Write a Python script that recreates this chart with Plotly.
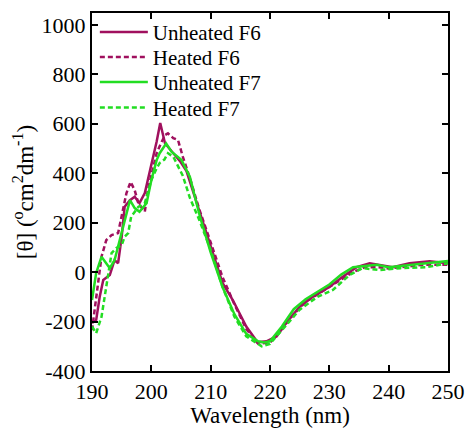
import plotly.graph_objects as go

# Unheated F6
wl_u6 = [190, 190.7, 191.3, 191.9, 193, 193.8, 194.4, 195, 195.5, 196.4, 197.2, 198, 198.9, 199.4,
         200.3, 200.9, 201.5, 202.3, 203.7, 204.8, 205.9, 206.8, 208.1, 209.8, 212, 213.7, 216,
         217.9, 219.4, 221.1, 222.8, 225, 227.2, 230, 232.2, 234.6, 236.8, 239, 240.7, 243.5,
         246.9, 250]
th_u6 = [-206, -194, -100, -32, -12, 48, 36, 143, 264, 291, 305, 279, 320, 372,
         453, 528, 603, 521, 481, 450, 410, 345, 248, 120, -44, -112, -220,
         -284, -280, -260, -204, -140, -100, -60, -20, 20, 36, 28, 20, 36,
         44, 36]

# Heated F6
wl_h6 = [190, 190.7, 191.6, 192.4, 193.3, 194.4, 195.2, 195.8, 196.5, 197.2, 197.8, 198.9, 199.4,
         200.3, 200.9, 201.6, 202.3, 202.8, 203.7, 204.5, 205.3, 206.5, 208, 210, 212, 214, 216,
         218, 220, 222, 224, 226, 228, 230, 232, 234, 236, 238, 240, 242, 244, 246, 248, 250]
th_h6 = [-235, -113, 62, 129, 150, 158, 251, 319, 365, 331, 279, 244, 331,
         426, 481, 520, 554, 561, 542, 534, 467, 380, 260, 120, -20, -130, -230,
         -290, -285, -230, -170, -120, -90, -60, -30, 0, 20, 20, 15, 20, 25, 30, 30, 30]

# Unheated F7
wl_u7 = [190, 190.7, 191.6, 193, 193.8, 194.3, 195, 195.8, 196.4, 197.2, 198, 199.2, 200, 200.9,
         201.4, 202.5, 203.4, 205.1, 206.5, 208.2, 210, 212, 214, 216, 218, 219, 220, 222, 224,
         226, 228, 230, 232, 234, 236, 238, 240, 242, 244, 246, 248, 250]
th_u7 = [-113, -4, 62, 16, 48, 97, 158, 238, 291, 259, 244, 279, 372, 453,
         481, 520, 487, 453, 385, 224, 80, -60, -170, -250, -280, -285, -280, -220, -150,
         -110, -80, -50, -10, 20, 25, 30, 20, 25, 30, 35, 40, 45]

# Heated F7
wl_h7 = [190, 190.7, 191.6, 192.4, 193.3, 194.1, 195, 195.5, 196.1, 196.6, 197.8, 198.9, 200,
         200.9, 201.4, 202.2, 202.8, 203.7, 204.5, 205.3, 206.5, 208.1, 210, 212, 214, 216,
         218.6, 220, 222.1, 225, 228, 230.6, 233.4, 235.6, 238.5, 242, 246.4, 250]
th_h7 = [-220, -247, -181, -59, 77, 97, 109, 143, 158, 224, 264, 279, 372,
         420, 441, 455, 481, 467, 430, 390, 300, 210, 90, -60, -180, -260,
         -300, -290, -232, -152, -100, -72, -12, 16, 8, 16, 20, 36]

x_ticks = [190, 200, 210, 220, 230, 240, 250]
y_ticks = [-400, -200, 0, 200, 400, 600, 800, 1000]
y_ticktext = ["-400", "-200", "0", "200", "400", "600", "800", "1000"]

PURPLE = "#A0105E"
GREEN = "#22DD22"
FAM = "Liberation Serif"

fig = go.Figure()
fig.add_trace(go.Scatter(x=wl_u6, y=th_u6, mode="lines", name="Unheated F6", legend="legend",
                         line=dict(color=PURPLE, width=2.5)))
fig.add_trace(go.Scatter(x=wl_h6, y=th_h6, mode="lines", name="Heated F6", legend="legend2",
                         line=dict(color=PURPLE, width=2.5, dash="5px,3px")))
fig.add_trace(go.Scatter(x=wl_u7, y=th_u7, mode="lines", name="Unheated F7", legend="legend3",
                         line=dict(color=GREEN, width=2.5)))
fig.add_trace(go.Scatter(x=wl_h7, y=th_h7, mode="lines", name="Heated F7", legend="legend4",
                         line=dict(color=GREEN, width=2.5, dash="5px,3px")))

tick_font = dict(family=FAM, size=22, color="black")
title_font = dict(family=FAM, size=23, color="black")


def leg(y):
    return dict(x=0.008, y=y, xanchor="left", yanchor="middle", bgcolor="rgba(0,0,0,0)",
                font=dict(family=FAM, size=21, color="black"), itemwidth=48,
                borderwidth=0)


fig.update_layout(
    width=468, height=428,
    margin=dict(l=92, r=20, t=13, b=57),
    paper_bgcolor="white", plot_bgcolor="white",
    font=dict(family=FAM, size=22, color="black"),
    showlegend=True,
    legend=leg(0.946),
    legend2=leg(0.876),
    legend3=leg(0.806),
    legend4=leg(0.735),
    xaxis=dict(range=[190, 250], tickvals=x_ticks, automargin=False,
               showline=True, linecolor="black", linewidth=2, mirror="ticks",
               ticks="inside", ticklen=6, tickwidth=2, tickcolor="black",
               showgrid=False, zeroline=False, tickfont=tick_font, ticklabelstandoff=0,
               title=dict(text="Wavelength (nm)", standoff=12, font=title_font)),
    yaxis=dict(range=[-400, 1048], tickvals=y_ticks, ticktext=y_ticktext, automargin=False,
               showline=True, linecolor="black", linewidth=2, mirror="ticks",
               ticks="inside", ticklen=6, tickwidth=2, tickcolor="black",
               showgrid=False, zeroline=False, tickfont=tick_font,
               title=dict(text="[θ] (<sup>o</sup>cm<sup>2</sup>dm<sup>-1</sup>)", standoff=2, font=title_font)),
)

fig.write_html("out.html")
